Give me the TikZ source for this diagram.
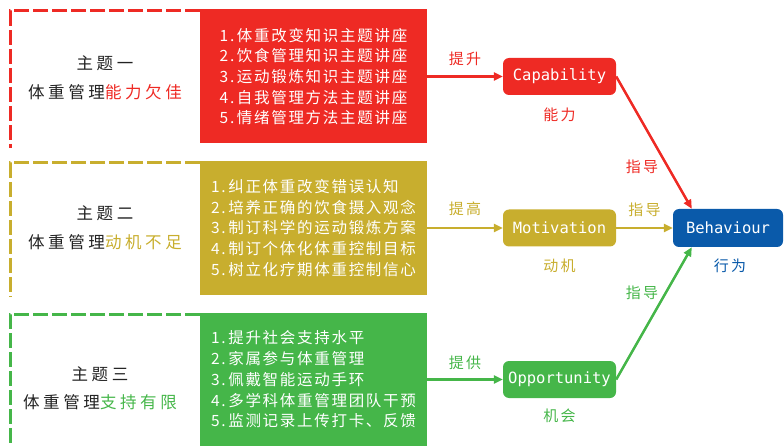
\documentclass[tikz,border=0pt]{standalone}
\usepackage{fontspec}
\setmainfont{Noto Sans CJK SC}
\newfontfamily\cjk{Noto Sans CJK SC}
\newfontfamily\listfont[LetterSpace=11]{Noto Sans CJK SC}
\newfontfamily\themefont[LetterSpace=22]{Noto Sans CJK SC}
\newfontfamily\lblfont[LetterSpace=14]{Noto Sans CJK SC}
\newfontfamily\latinmono{DejaVu Sans Mono}
\usetikzlibrary{arrows.meta}
\definecolor{cred}{HTML}{EE2A24}
\definecolor{cgold}{HTML}{C8AE2E}
\definecolor{cgreen}{HTML}{45B649}
\definecolor{cblue}{HTML}{0A5AAA}
\definecolor{cdark}{HTML}{222222}
\tikzset{
  listbox/.style={rectangle, minimum width=227pt, minimum height=134pt, inner sep=0pt,
    text=white, align=left, font=\listfont\fontsize{15.5}{20.7}\selectfont},
  themetext/.style={inner sep=0pt, text=cdark, font=\themefont\fontsize{16.5}{20}\selectfont},
  keynode/.style={rectangle, rounded corners=6pt, minimum width=113pt, minimum height=37pt,
    inner sep=0pt, text=white, font=\latinmono\fontsize{15.5}{18}\selectfont},
  lbl/.style={inner sep=0pt, font=\lblfont\fontsize{15}{18}\selectfont},
  frame/.style={line width=3pt, dash pattern=on 15pt off 4pt},
  arr/.style={line width=2.5pt, -{Triangle[length=9pt,width=8pt]}},
}
\begin{document}
\begin{tikzpicture}[x=1pt,y=-1pt]
\useasboundingbox (0,0) rectangle (784,446);
% ---- theme 1 ----
\node[listbox, fill=cred] (box1) at (313.5,76.5) {1.\,体重改变知识主题讲座\\2.\,饮食管理知识主题讲座\\3.\,运动锻炼知识主题讲座\\4.\,自我管理方法主题讲座\\5.\,情绪管理方法主题讲座};
\draw[frame, cred] (200,11) -- (10,11) -- (10,148);
\node[themetext] (t1a) at (105,63) {主题一};
\node[themetext] (t1b) at (105,92) {体重管理\textcolor{cred}{能力欠佳}};
% ---- theme 2 ----
\node[listbox, fill=cgold] (box2) at (313.5,228) {1.\,纠正体重改变错误认知\\2.\,培养正确的饮食摄入观念\\3.\,制订科学的运动锻炼方案\\4.\,制订个体化体重控制目标\\5.\,树立化疗期体重控制信心};
\draw[frame, cgold] (200,163) -- (10,163) -- (10,297);
\node[themetext] (t2a) at (105,213) {主题二};
\node[themetext] (t2b) at (105,242) {体重管理\textcolor{cgold}{动机不足}};
% ---- theme 3 ----
\node[listbox, fill=cgreen, minimum height=133pt] (box3) at (313.5,379.5) {1.\,提升社会支持水平\\2.\,家属参与体重管理\\3.\,佩戴智能运动手环\\4.\,多学科体重管理团队干预\\5.\,监测记录上传打卡、反馈};
\draw[frame, cgreen] (200,314) -- (10,314) -- (10,446);
\node[themetext] (t3a) at (100,374) {主题三};
\node[themetext] (t3b) at (100,402) {体重管理\textcolor{cgreen}{支持有限}};
% ---- key nodes ----
\node[keynode, fill=cred] (cap) at (559.5,76.5) {Capability};
\node[keynode, fill=cgold] (mot) at (559.5,228) {Motivation};
\node[keynode, fill=cgreen] (opp) at (559.5,379.5) {Opportunity};
\node[keynode, fill=cblue, minimum width=110pt, minimum height=38pt] (beh) at (728,228) {Behaviour};
\node[lbl, text=cred] (capl) at (559.5,115) {能力};
\node[lbl, text=cgold] (motl) at (559.5,266) {动机};
\node[lbl, text=cgreen] (oppl) at (559.5,416) {机会};
\node[lbl, text=cblue] (behl) at (730,266) {行为};
% ---- arrows ----
\draw[arr, cred] (box1.east) -- (cap.west) node[lbl, midway, yshift=18pt] {提升};
\draw[arr, cgold] (box2.east) -- (mot.west) node[lbl, midway, yshift=19pt] {提高};
\draw[arr, cgreen] (box3.east) -- (opp.west) node[lbl, midway, yshift=17pt] {提供};
\draw[arr, cred] (cap.east) -- ([xshift=19pt]beh.north west);
\draw[arr, cgold] (mot.east) -- (beh.west) node[lbl, midway, yshift=18pt] {指导};
\draw[arr, cgreen] (opp.east) -- ([xshift=19pt]beh.south west);
\node[lbl, text=cred] (g1) at (642,167) {指导};
\node[lbl, text=cgreen] (g3) at (642,293) {指导};
\end{tikzpicture}
\end{document}
